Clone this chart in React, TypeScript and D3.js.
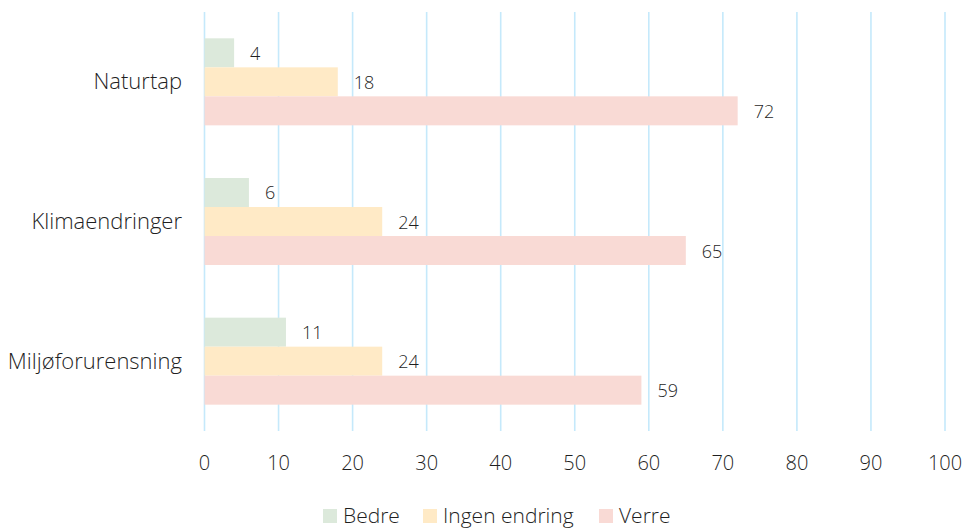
import React from "react";
import * as d3 from "d3";

const categories = ["Naturtap", "Klimaendringer", "Miljøforurensning"];
const seriesNames = ["Bedre", "Ingen endring", "Verre"];
const bedre = [4, 6, 11];
const ingenEndring = [18, 24, 24];
const verre = [72, 65, 59];
const xTicks = [0, 10, 20, 30, 40, 50, 60, 70, 80, 90, 100];
const colors = ["#dce9db", "#ffeac6", "#f9dad5"];

const W = 966;
const H = 528;
const FONT = "'Open Sans', 'Segoe UI', sans-serif";

export default function App() {
  const series = [bedre, ingenEndring, verre];
  const x = d3.scaleLinear().domain([0, 100]).range([204.5, 945]);
  const y = d3
    .scaleBand<string>()
    .domain(categories)
    .range([12, 431])
    .paddingInner(0.377)
    .paddingOuter(0.1885);
  const sub = d3
    .scaleBand<string>()
    .domain(seriesNames)
    .range([0, y.bandwidth()]);

  const legendX = [323, 423, 599];

  return (
    <svg
      width={W}
      height={H}
      style={{ position: "absolute", left: 0, top: 0, background: "#fff" }}
      fontFamily={FONT}
      fontWeight={300}
    >
      {xTicks.map((t) => (
        <line
          key={t}
          x1={x(t)}
          x2={x(t)}
          y1={12}
          y2={431}
          stroke="#c5e9fb"
          strokeWidth={1.6}
        />
      ))}
      {categories.map((c, i) => (
        <g key={c}>
          <text
            x={182}
            y={y(c)! + y.bandwidth() / 2 + 7.5}
            textAnchor="end"
            fontSize={22}
            fill="#1f1f1f"
          >
            {c}
          </text>
          {series.map((s, j) => (
            <g key={j}>
              <rect
                x={x(0)}
                y={y(c)! + sub(seriesNames[j])!}
                width={x(s[i]) - x(0)}
                height={sub.bandwidth()}
                fill={colors[j]}
              />
              <text
                x={x(s[i]) + 16}
                y={y(c)! + sub(seriesNames[j])! + sub.bandwidth() / 2 + 7}
                fontSize={18}
                fill="#1f1f1f"
              >
                {s[i]}
              </text>
            </g>
          ))}
        </g>
      ))}
      {xTicks.map((t) => (
        <text
          key={"l" + t}
          x={x(t)}
          y={470}
          textAnchor="middle"
          fontSize={20}
          fill="#1f1f1f"
        >
          {t}
        </text>
      ))}
      {seriesNames.map((n, j) => (
        <g key={n}>
          <rect x={legendX[j]} y={509} width={14} height={14} fill={colors[j]} />
          <text
            x={legendX[j] + 20}
            y={523}
            fontSize={21}
            fill="#1f1f1f"
          >
            {n}
          </text>
        </g>
      ))}
    </svg>
  );
}
